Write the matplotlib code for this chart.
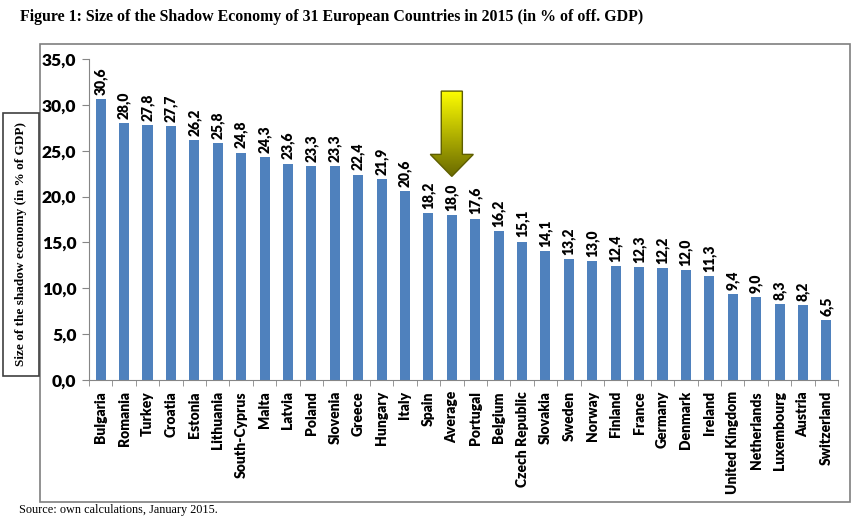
import matplotlib
matplotlib.use('Agg')
import matplotlib.pyplot as plt
import numpy as np
from matplotlib.patches import Polygon, Rectangle
from matplotlib.colors import LinearSegmentedColormap

# data
countries = ['Bulgaria', 'Romania', 'Turkey', 'Croatia', 'Estonia', 'Lithuania',
             'South-Cyprus', 'Malta', 'Latvia', 'Poland', 'Slovenia', 'Greece',
             'Hungary', 'Italy', 'Spain', 'Average', 'Portugal', 'Belgium',
             'Czech Republic', 'Slovakia', 'Sweden', 'Norway', 'Finland', 'France',
             'Germany', 'Denmark', 'Ireland', 'United Kingdom', 'Netherlands',
             'Luxembourg', 'Austria', 'Switzerland']
shadow = [30.6, 28.0, 27.8, 27.7, 26.2, 25.8, 24.8, 24.3, 23.6, 23.3, 23.3, 22.4,
          21.9, 20.6, 18.2, 18.0, 17.6, 16.2, 15.1, 14.1, 13.2, 13.0, 12.4, 12.3,
          12.2, 12.0, 11.3, 9.4, 9.0, 8.3, 8.2, 6.5]
yticks = [0, 5, 10, 15, 20, 25, 30, 35]

sans = ['Lato', 'DejaVu Sans']
serif = ['Liberation Serif', 'DejaVu Serif']
bar_color = '#4F81BD'
axis_color = '#868686'
weight = 'heavy'

fig = plt.figure(figsize=(8.63, 5.25), dpi=100)

# outer chart frame
fig.patches.append(Rectangle((0.0463, 0.0438), 0.9386, 0.8724, transform=fig.transFigure,
                             fill=False, edgecolor='#7f7f7f', linewidth=1.2))

ax = fig.add_axes([0.1031, 0.2762, 0.8680, 0.6114])
x = np.arange(len(countries))
ax.bar(x, shadow, width=0.43, color=bar_color)

for xi, v in zip(x, shadow):
    ax.text(xi, v + 0.45, f'{v:.1f}'.replace('.', ','), rotation=90, ha='center', va='bottom',
            fontsize=10, fontweight=weight, family=sans)

ax.set_yticks(yticks)
ax.set_yticklabels([f'{t:.1f}'.replace('.', ',') for t in yticks], fontsize=12.5,
                   fontweight=weight, family=sans)
ax.set_xticks(x)
ax.set_xticklabels(countries, rotation=90, fontsize=10, fontweight=weight, family=sans)
ax.set_xticks(np.arange(-0.5, len(countries)), minor=True)
ax.tick_params(axis='x', which='major', length=0, pad=8)
ax.tick_params(axis='x', which='minor', length=4, color=axis_color)
ax.tick_params(axis='y', length=5, color=axis_color, pad=4)
for s in ['top', 'right']:
    ax.spines[s].set_visible(False)
for s in ['left', 'bottom']:
    ax.spines[s].set_color(axis_color)

# yellow arrow above the average bar
avg = countries.index('Average')
shaft, head = 0.45, 0.92
top, neck, tip = 31.5, 24.6, 22.2
arrow_pts = [(avg - shaft, top), (avg + shaft, top), (avg + shaft, neck), (avg + head, neck),
             (avg, tip), (avg - head, neck), (avg - shaft, neck)]
arrow = Polygon(arrow_pts, closed=True, facecolor='none', edgecolor='#5e5e00', linewidth=1, zorder=4)
ax.add_patch(arrow)
grad = np.linspace(0, 1, 256).reshape(-1, 1)
cmap = LinearSegmentedColormap.from_list('yo', ['#FFFF00', '#6A6A00'])
img = ax.imshow(grad, cmap=cmap, extent=(avg - head, avg + head, tip, top), aspect='auto',
                origin='upper', zorder=3)
img.set_clip_path(arrow)
ax.set_xlim(-0.5, len(countries) - 0.5)
ax.set_ylim(0, 35)

# y label in its own box
fig.patches.append(Rectangle((0.0035, 0.2838), 0.0417, 0.5010, transform=fig.transFigure,
                             fill=False, edgecolor='#404040', linewidth=1.2))
fig.text(0.0243, 0.5343, 'Size of the shadow economy (in % of GDP)', rotation=90,
         ha='center', va='center', fontsize=9.5, fontweight='bold', family=serif)

fig.text(0.023, 0.967, 'Figure 1: Size of the Shadow Economy of 31 European Countries in 2015 (in % of off. GDP)',
         ha='left', va='center', fontsize=11.4, fontweight='bold', family=serif)
fig.text(0.022, 0.028, 'Source: own calculations, January 2015.', ha='left', va='center',
         fontsize=8.8, family=serif)

fig.savefig('out.png', dpi=100)
